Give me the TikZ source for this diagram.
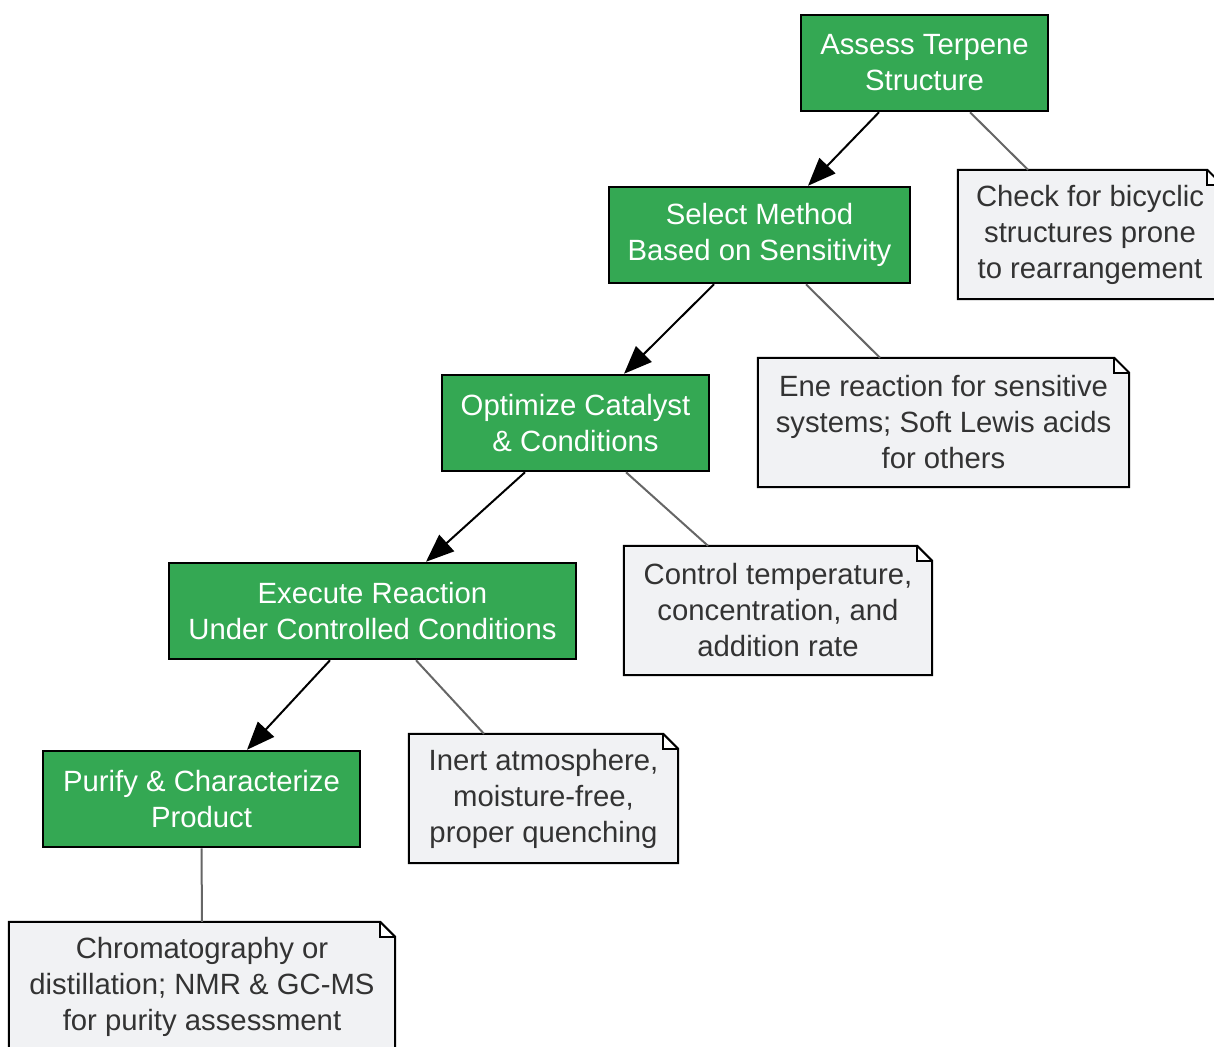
\documentclass[tikz,border=0pt]{standalone}
\usepackage{fontspec}
\setmainfont{Liberation Sans}
\usetikzlibrary{arrows.meta}
\definecolor{stepgreen}{RGB}{52,168,83}
\definecolor{notegray}{RGB}{241,242,244}
\definecolor{notetext}{RGB}{51,51,51}
\definecolor{linkgray}{RGB}{102,102,102}
\begin{document}
\begin{tikzpicture}[x=1pt,y=-1pt,
  stepbox/.style={draw=black,line width=2.5pt,fill=stepgreen,text=white,align=center,inner sep=0pt,
    font=\fontsize{29.3}{36}\selectfont,execute at begin node={\rule{0pt}{26pt}}},
  notebox/.style={fill=notegray,text=notetext,align=center,inner sep=0pt,minimum height=129pt,
    font=\fontsize{29.3}{36}\selectfont,execute at begin node={\rule{0pt}{26pt}}},
  flow/.style={line width=2pt,-{Triangle[length=28pt,width=22pt]}},
  link/.style={line width=2pt,linkgray}]
\useasboundingbox (0,0) rectangle (1214,1046);
\node[stepbox,minimum width=247pt,minimum height=96pt] (assess) at (924.5,63) {Assess Terpene\\Structure};
\node[stepbox,minimum width=301pt,minimum height=96pt] (select) at (759.5,235) {Select Method\\Based on Sensitivity};
\node[stepbox,minimum width=267pt,minimum height=96pt] (optimize) at (575.5,423) {Optimize Catalyst\\\& Conditions};
\node[stepbox,minimum width=407pt,minimum height=96pt] (execute) at (372.5,611) {Execute Reaction\\Under Controlled Conditions};
\node[stepbox,minimum width=317pt,minimum height=96pt] (purify) at (201.5,799) {Purify \& Characterize\\Product};
\node[notebox,minimum width=264pt] (bicyclic) at (1090,234.5) {Check for bicyclic\\structures prone\\to rearrangement};
\node[notebox,minimum width=371pt] (ene) at (943.5,422.5) {Ene reaction for sensitive\\systems; Soft Lewis acids\\for others};
\node[notebox,minimum width=308pt] (control) at (778,610.5) {Control temperature,\\concentration, and\\addition rate};
\node[notebox,minimum width=269pt] (inert) at (543.5,798.5) {Inert atmosphere,\\moisture-free,\\proper quenching};
\node[notebox,minimum width=386pt] (chroma) at (202,986.5) {Chromatography or\\distillation; NMR \& GC-MS\\for purity assessment};
\foreach \n in {bicyclic,ene,control,inert,chroma} {
  \fill[white] ([xshift=-16pt]\n.north east) rectangle ([xshift=1pt,yshift=-16pt]\n.north east);
  \draw[line width=2pt,line join=miter] (\n.south west) -- (\n.north west) -- ([xshift=-15pt]\n.north east)
    -- ([yshift=-15pt]\n.north east) -- (\n.south east) -- cycle;
  \draw[line width=1.5pt] ([xshift=-15pt]\n.north east) -- ([xshift=-15pt,yshift=-15pt]\n.north east) -- ([yshift=-15pt]\n.north east);
}
\draw[flow] ([xshift=-45.5pt]assess.south) -- ([xshift=48.5pt]select.north);
\draw[flow] ([xshift=-45.5pt]select.south) -- ([xshift=48.5pt]optimize.north);
\draw[flow] ([xshift=-50.5pt]optimize.south) -- ([xshift=53.5pt]execute.north);
\draw[flow] ([xshift=-42.5pt]execute.south) -- ([xshift=45.5pt]purify.north);
\draw[link] ([xshift=45.5pt]assess.south) -- ([xshift=-62pt]bicyclic.north);
\draw[link] ([xshift=46.5pt]select.south) -- ([xshift=-63.5pt]ene.north);
\draw[link] ([xshift=50.5pt]optimize.south) -- ([xshift=-70pt]control.north);
\draw[link] ([xshift=43.5pt]execute.south) -- ([xshift=-59.5pt]inert.north);
\draw[link] (purify.south) -- (chroma.north);
\end{tikzpicture}
\end{document}
